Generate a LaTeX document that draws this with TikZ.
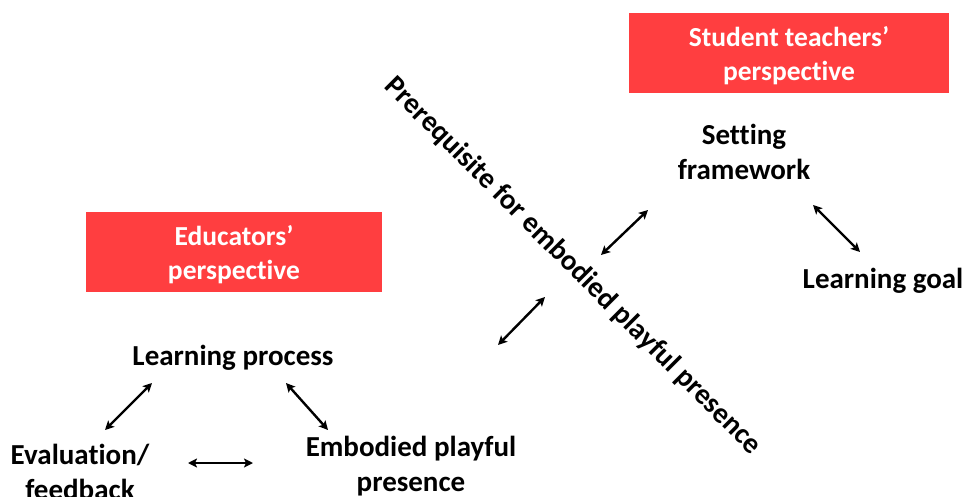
\documentclass[tikz,border=0pt]{standalone}
\usepackage{fontspec}
\setmainfont{Carlito}[Ligatures=NoCommon,RawFeature={-calt;-clig;-dlig}]
\usetikzlibrary{arrows.meta}
\definecolor{boxred}{RGB}{255,62,64}
\tikzset{
  lbl/.style={font=\bfseries\fontsize{29}{35}\selectfont,align=center,inner sep=0pt},
  redbox/.style={fill=boxred,text=white,minimum width=#1,minimum height=80pt,font=\bfseries\fontsize{27.5}{34}\selectfont,align=center,inner sep=0pt},
  dbl/.style={{Stealth[length=9pt,width=9pt,inset=2pt]}-{Stealth[length=9pt,width=9pt,inset=2pt]},line width=2.4pt}
}
\begin{document}
\begin{tikzpicture}[x=1pt,y=-1pt]
\useasboundingbox (0,0) rectangle (965,497);
% perspectives
\node[redbox=320pt] (stp) at (789,53) {\raisebox{-3pt}[\height][\depth]{\parbox{320pt}{\centering Student teachers'\\perspective}}};
\node[redbox=296pt] (edp) at (234,252) {\raisebox{-3pt}[\height][\depth]{\parbox{296pt}{\centering Educators'\\perspective}}};
% student teachers side
\node[lbl] (sf) at (744,152) {Setting\\framework};
\node[lbl] (lg) at (883,281) {Learning goal};
% educators side
\node[lbl] (lp) at (233,358) {Learning process};
\node[lbl] (ev) at (80,472) {Evaluation/\\feedback};
\node[lbl] (ep) at (411,466) {Embodied playful\\presence};
% diagonal
\node[lbl,rotate=-45] (pre) at (573,266) {Prerequisite for embodied playful presence};
% arrow ends
\coordinate (a1) at (601,255); \coordinate (a2) at (648,210);
\coordinate (b1) at (498,345); \coordinate (b2) at (545,297);
\coordinate (c1) at (813,205); \coordinate (c2) at (860,252);
\coordinate (d1) at (152,383); \coordinate (d2) at (105,430);
\coordinate (e1) at (286,383); \coordinate (e2) at (328,430);
\coordinate (f1) at (188,463); \coordinate (f2) at (253,463);
\draw[dbl] (a1) -- (a2);
\draw[dbl] (b1) -- (b2);
\draw[dbl] (c1) -- (c2);
\draw[dbl] (d1) -- (d2);
\draw[dbl] (e1) -- (e2);
\draw[dbl] (f1) -- (f2);
\end{tikzpicture}
\end{document}
